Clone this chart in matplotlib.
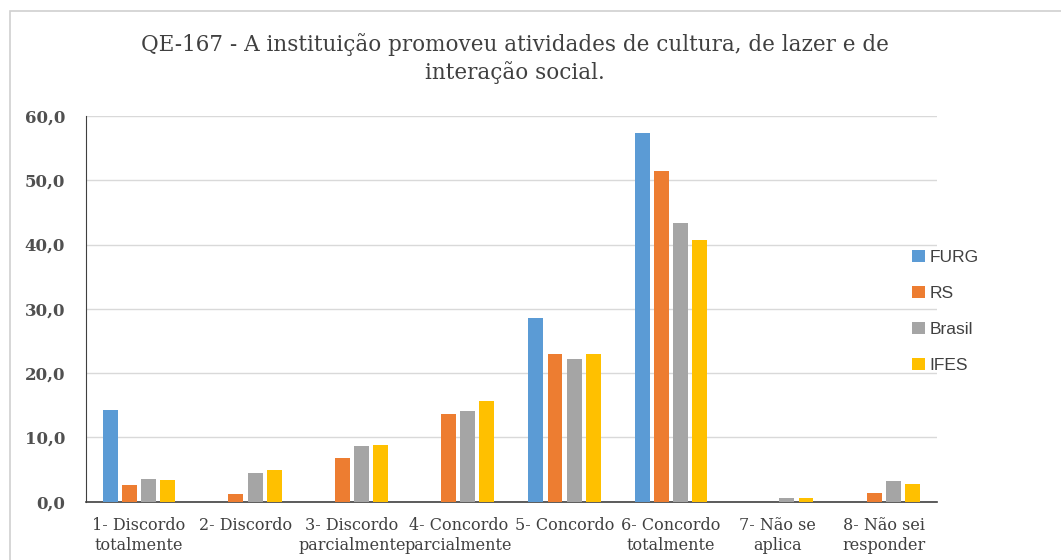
import matplotlib.pyplot as plt
import numpy as np
from matplotlib.patches import Rectangle

categorias = ["1- Discordo\ntotalmente", "2- Discordo", "3- Discordo\nparcialmente",
              "4- Concordo\nparcialmente", "5- Concordo", "6- Concordo\ntotalmente",
              "7- Não se\naplica", "8- Não sei\nresponder"]
furg = [14.3, 0.0, 0.0, 0.0, 28.6, 57.3, 0.0, 0.0]
rs = [2.6, 1.2, 6.8, 13.6, 23.0, 51.4, 0.0, 1.3]
brasil = [3.6, 4.5, 8.7, 14.1, 22.2, 43.3, 0.6, 3.3]
ifes = [3.4, 5.0, 8.9, 15.7, 22.9, 40.7, 0.6, 2.8]

series = [("FURG", furg, "#5B9BD5"), ("RS", rs, "#ED7D31"),
          ("Brasil", brasil, "#A5A5A5"), ("IFES", ifes, "#FFC000")]

fig = plt.figure(figsize=(10.61, 5.6), dpi=100)
ax = fig.add_axes([0.081, 0.104, 0.802, 0.689])

# moldura do gráfico
fig.patches.append(Rectangle((0.009, -0.01), 1.0, 0.99, transform=fig.transFigure,
                             fill=False, edgecolor="#D0D0D0", linewidth=1.2))

x = np.arange(len(categorias))
larg = 0.14
passo = 0.18
for i, (nome, vals, cor) in enumerate(series):
    ax.bar(x + (i - 1.5) * passo, vals, larg, color=cor, label=nome, zorder=3)

ax.set_xlim(-0.5, len(categorias) - 0.5)
ax.set_ylim(0, 60)
ax.set_yticks(np.arange(0, 61, 10))
ax.set_yticklabels([f"{v:.1f}".replace(".", ",") for v in np.arange(0, 61, 10)],
                   fontfamily="DejaVu Serif", fontsize=12, color="#505050",
                   fontweight="semibold")
ax.set_xticks(x)
ax.set_xticklabels(categorias, fontfamily="DejaVu Serif", fontsize=11.5,
                   color="#404040", linespacing=1.2)
ax.tick_params(axis="y", length=0, pad=15)
ax.tick_params(axis="x", length=0, pad=11)
ax.grid(axis="y", color="#D9D9D9", linewidth=1, zorder=0)
for s in ["top", "right"]:
    ax.spines[s].set_visible(False)
ax.spines["left"].set_color("#404040")
ax.spines["bottom"].set_color("#404040")
ax.spines["bottom"].set_linewidth(1.2)

fig.text(0.485, 0.895, "QE-167 - A instituição promoveu atividades de cultura, de lazer e de\ninteração social.",
         ha="center", va="center", fontfamily="DejaVu Serif", fontsize=15.5,
         color="#404040", linespacing=1.3)

ax.legend(loc="center left", bbox_to_anchor=(0.953, 0.494), frameon=False,
          prop={"family": "Liberation Sans", "size": 12.5}, labelcolor="#404040",
          handlelength=0.7, handleheight=0.7, handletextpad=0.3, labelspacing=1.2)

fig.savefig("out.png", dpi=100)
